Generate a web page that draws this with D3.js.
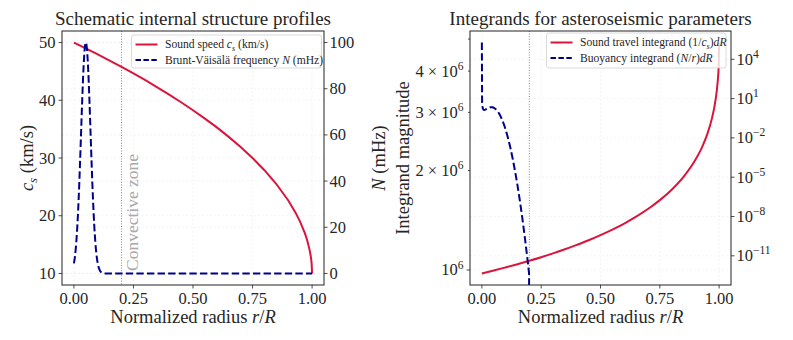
<!DOCTYPE html>
<html><head><meta charset="utf-8">
<script src="https://cdn.jsdelivr.net/npm/d3@7"></script>
<style>body{margin:0;background:#fff} svg, svg text, svg tspan{font-family:"Liberation Serif","Times New Roman",serif}</style>
</head><body><svg id="c" width="793" height="340"></svg>
<script>
// ---------------- data ----------------
const rCs = [0,0.05,0.1,0.15,0.2,0.25,0.3,0.35,0.4,0.45,0.5,0.55,0.6,0.65,0.7,0.75,0.8,0.85,0.9,0.93,0.95,0.97,0.98,0.99,0.995,0.998,1.0];
const csVals = [50,48.99,47.95,46.88,45.78,44.64,43.47,42.25,40.98,39.66,38.28,36.83,35.30,33.66,31.91,30.0,27.89,25.49,22.65,20.58,18.94,16.93,15.66,14.0,12.83,11.79,10];
const soundInt = [9.76e5,9.96e5,1.018e6,1.041e6,1.066e6,1.093e6,1.123e6,1.155e6,1.191e6,1.230e6,1.275e6,1.325e6,1.382e6,1.450e6,1.529e6,1.627e6,1.750e6,1.914e6,2.155e6,2.371e6,2.577e6,2.882e6,3.116e6,3.486e6,3.804e6,4.139e6,4.88e6];
const rN = [0,0.005,0.01,0.015,0.02,0.025,0.03,0.035,0.04,0.045,0.05,0.055,0.06,0.065,0.07,0.075,0.08,0.085,0.09,0.095,0.1,0.105,0.11,0.12,0.13,0.15,0.2,0.4,0.6,0.8,1.0];
const nVals = [4.39,7.8,13.53,21.6,32.47,45.78,60.65,75.47,88.25,96.92,100,96.92,88.25,75.47,60.65,45.78,32.47,21.6,13.53,7.96,4.39,2.3,1.11,0.22,0.03,0,0,0,0,0,0];
const rBuoy = [0,0.001,0.002,0.004,0.006,0.008,0.01,0.015,0.02,0.025,0.03,0.035,0.04,0.045,0.05,0.055,0.06,0.065,0.07,0.075,0.08,0.085,0.09,0.095,0.1,0.11,0.12,0.13,0.14,0.15,0.16,0.17,0.18,0.19,0.199,0.2,0.25,0.5,0.75,1.0];
const buoyInt = [1.9e5,4.98,2.81,1.77,1.48,1.375,1.35,1.44,1.62,1.83,2.02,2.16,2.21,2.15,2.0,1.762,1.47,1.161,0.866,0.610,0.406,0.254,0.150,0.0838,0.0439,0.0101,1.82e-3,2.58e-4,2.86e-5,2.49e-6,1.69e-7,8.9e-9,3.7e-10,1.2e-11,4.5e-13,0,0,0,0,0];
const convR = 0.2;
const xTicks = [0,0.25,0.5,0.75,1.0];
const csTicks = [10,20,30,40,50];
const nTicks = [0,20,40,60,80,100];
const soundMajor = [1e6];
const soundMinor = [2e6,3e6,4e6,5e6];
const soundMinorLabeled = [2e6,3e6,4e6];
const buoyTicks = [1e4,1e1,1e-2,1e-5,1e-8,1e-11];

// ---------------- helpers ----------------
const RED = "#dc143c", BLUE = "#00008b";
const FONT = "Liberation Serif, Times New Roman, serif";
const svg = d3.select("#c");
function rich(t, parts, fs) {
  let cur = 0;
  parts.forEach(p => {
    const [txt, st] = typeof p === "string" ? [p, ""] : p;
    const ts = t.append("tspan").text(txt);
    let target = 0, size = fs;
    if (st.includes("i")) ts.attr("font-style", "italic");
    if (st.includes("b")) { target = fs * 0.22; size = fs * 0.7; }
    if (st.includes("p")) { target = -fs * 0.42; size = fs * 0.7; }
    ts.attr("font-size", size);
    if (target !== cur) { ts.attr("dy", target - cur); cur = target; }
  });
  return t;
}
function supExp(v) {
  const e = Math.round(Math.log10(v));
  return [["10", ""], [(e < 0 ? "\u2212" : "") + Math.abs(e), "p"]];
}
function padDomain(lo, hi) { const p = 0.05 * (hi - lo); return [lo - p, hi + p]; }
function logDomain(vals) {
  const pos = vals.filter(v => v > 0);
  const lo = Math.log10(d3.min(pos)), hi = Math.log10(d3.max(pos));
  const p = 0.05 * (hi - lo);
  return [Math.pow(10, lo - p), Math.pow(10, hi + p)];
}
const TOP = 31, BOT = 285;
const TICKFS = 16.5, LABFS = 18.5, TITFS = 19, LEGFS = 11.6;
const TXT = "#262626";

function txt(g) { return g.append("text").attr("font-family", FONT).attr("fill", TXT); }
function frame(g, x0, x1) {
  g.append("rect").attr("x", x0).attr("y", TOP).attr("width", x1 - x0).attr("height", BOT - TOP)
    .attr("fill", "none").attr("stroke", "#222").attr("stroke-width", 1);
}
function gridV(g, x, ticks) {
  ticks.forEach(t => g.append("line").attr("x1", x(t)).attr("x2", x(t)).attr("y1", TOP).attr("y2", BOT)
    .attr("stroke", "#ececec").attr("stroke-width", 0.6).attr("stroke-dasharray", "2,2"));
}
function gridH(g, y, ticks, x0, x1) {
  ticks.forEach(t => g.append("line").attr("x1", x0).attr("x2", x1).attr("y1", y(t)).attr("y2", y(t))
    .attr("stroke", "#ececec").attr("stroke-width", 0.6).attr("stroke-dasharray", "2,2"));
}
function xAxis(g, x) {
  xTicks.forEach(t => {
    g.append("line").attr("x1", x(t)).attr("x2", x(t)).attr("y1", BOT).attr("y2", BOT + 3.5).attr("stroke", "#222").attr("stroke-width", 0.8);
    txt(g).attr("x", x(t)).attr("y", 303.5).attr("text-anchor", "middle").attr("font-size", TICKFS).text(d3.format(".2f")(t));
  });
}
function yTicks(g, y, ticks, xAt, side, fmt, len) {
  ticks.forEach(t => {
    const yy = y(t);
    g.append("line").attr("x1", xAt).attr("x2", xAt + (side === "left" ? -len : len)).attr("y1", yy).attr("y2", yy).attr("stroke", "#222").attr("stroke-width", 0.8);
    if (fmt) {
      const tx = txt(g).attr("x", side === "left" ? xAt - 6.5 : xAt + 5.5).attr("y", yy + 5.5)
        .attr("text-anchor", side === "left" ? "end" : "start").attr("font-size", TICKFS);
      rich(tx, fmt(t), TICKFS);
    }
  });
}
function legend(g, x0, y0, w, h, items) {
  g.append("rect").attr("x", x0).attr("y", y0).attr("width", w).attr("height", h).attr("rx", 2.5)
    .attr("fill", "white").attr("fill-opacity", 0.8).attr("stroke", "#d0d0d0").attr("stroke-width", 0.8);
  items.forEach((it, i) => {
    const yy = y0 + 9.5 + i * 15.5;
    g.append("line").attr("x1", x0 + 4).attr("x2", x0 + 26).attr("y1", yy).attr("y2", yy)
      .attr("stroke", it.color).attr("stroke-width", 2).attr("stroke-dasharray", it.dash || null);
    const tx = txt(g).attr("x", x0 + 33.5).attr("y", yy + 3.8).attr("font-size", LEGFS);
    rich(tx, it.parts, LEGFS);
  });
}
const defs = svg.append("defs");
function clip(id, x0, x1) {
  defs.append("clipPath").attr("id", id).append("rect").attr("x", x0).attr("y", TOP).attr("width", x1 - x0).attr("height", BOT - TOP);
}

// ---------------- left panel ----------------
{
  const X0 = 62, X1 = 324;
  const g = svg.append("g");
  clip("clipL", X0, X1);
  const x = d3.scaleLinear().domain(padDomain(0, 1)).range([X0, X1]);
  const y1 = d3.scaleLinear().domain(padDomain(d3.min(csVals), d3.max(csVals))).range([BOT, TOP]);
  const y2 = d3.scaleLinear().domain(padDomain(d3.min(nVals), d3.max(nVals))).range([BOT, TOP]);
  gridV(g, x, xTicks);
  gridH(g, y1, csTicks, X0, X1);
  gridH(g, y2, nTicks, X0, X1);
  const dl = g.append("g").attr("clip-path", "url(#clipL)");
  dl.append("line").attr("x1", x(convR)).attr("x2", x(convR)).attr("y1", TOP).attr("y2", BOT)
    .attr("stroke", "#888").attr("stroke-width", 1).attr("stroke-dasharray", "1,1.6");
  g.append("text").attr("font-family", FONT).attr("transform", `translate(${x(convR) + 16},271) rotate(-90)`).attr("font-size", 17.5)
    .attr("fill", "#a8a8a8").text("Convective zone");
  dl.append("path").datum(rCs.map((r, i) => [r, csVals[i]]))
    .attr("d", d3.line().x(d => x(d[0])).y(d => y1(d[1])))
    .attr("fill", "none").attr("stroke", RED).attr("stroke-width", 2);
  dl.append("path").datum(rN.map((r, i) => [r, nVals[i]]))
    .attr("d", d3.line().curve(d3.curveMonotoneX).x(d => x(d[0])).y(d => y2(d[1])))
    .attr("fill", "none").attr("stroke", BLUE).attr("stroke-width", 2).attr("stroke-dasharray", "7.4,3.2");
  legend(g, 131.5, 35, 190, 33, [
    { color: RED, parts: ["Sound speed ", ["c", "i"], ["s", "ib"], " (km/s)"] },
    { color: BLUE, dash: "5.5,2.4", parts: ["Brunt-Väisälä frequency ", ["N", "i"], " (mHz)"] }
  ]);
  frame(g, X0, X1);
  xAxis(g, x);
  yTicks(g, y1, csTicks, X0, "left", t => [String(t)], 3.5);
  yTicks(g, y2, nTicks, X1, "right", t => [String(t)], 3.5);
  txt(g).attr("x", (X0 + X1) / 2).attr("y", 25).attr("text-anchor", "middle").attr("font-size", TITFS)
    .text("Schematic internal structure profiles");
  rich(txt(g).attr("x", (X0 + X1) / 2).attr("y", 323).attr("text-anchor", "middle").attr("font-size", LABFS),
    ["Normalized radius ", ["r", "i"], "/", ["R", "i"]], LABFS);
  rich(txt(g).attr("transform", `translate(33,${(TOP + BOT) / 2}) rotate(-90)`).attr("text-anchor", "middle").attr("font-size", LABFS),
    [["c", "i"], ["s", "ib"], " (km/s)"], LABFS);
  rich(txt(g).attr("transform", `translate(385,${(TOP + BOT) / 2}) rotate(-90)`).attr("text-anchor", "middle").attr("font-size", LABFS),
    [["N", "i"], " (mHz)"], LABFS);
}

// ---------------- right panel ----------------
{
  const X0 = 470, X1 = 731;
  const g = svg.append("g");
  clip("clipR", X0, X1);
  const x = d3.scaleLinear().domain(padDomain(0, 1)).range([X0, X1]);
  const y1 = d3.scaleLog().domain(logDomain(soundInt)).range([BOT, TOP]);
  const y2 = d3.scaleLog().domain(logDomain(buoyInt)).range([BOT, TOP]);
  gridV(g, x, xTicks);
  gridH(g, y1, soundMajor, X0, X1);
  gridH(g, y2, buoyTicks, X0, X1);
  const dl = g.append("g").attr("clip-path", "url(#clipR)");
  dl.append("line").attr("x1", x(convR)).attr("x2", x(convR)).attr("y1", TOP).attr("y2", BOT)
    .attr("stroke", "#888").attr("stroke-width", 1).attr("stroke-dasharray", "1,1.6");
  dl.append("path").datum(rCs.map((r, i) => [r, soundInt[i]]))
    .attr("d", d3.line().curve(d3.curveMonotoneX).x(d => x(d[0])).y(d => y1(d[1])))
    .attr("fill", "none").attr("stroke", RED).attr("stroke-width", 2);
  dl.append("path").datum(rBuoy.map((r, i) => [r, buoyInt[i]]))
    .attr("d", d3.line().x(d => x(d[0])).y(d => d[1] > 0 ? y2(d[1]) : BOT + 3000))
    .attr("fill", "none").attr("stroke", BLUE).attr("stroke-width", 2).attr("stroke-dasharray", "7.4,3.2");
  legend(g, 546.5, 33, 179.5, 35, [
    { color: RED, parts: ["Sound travel integrand (1/", ["c", "i"], ["s", "ib"], ")", ["dR", "i"]] },
    { color: BLUE, dash: "5.5,2.4", parts: ["Buoyancy integrand (", ["N", "i"], "/", ["r", "i"], ")", ["dR", "i"]] }
  ]);
  frame(g, X0, X1);
  xAxis(g, x);
  yTicks(g, y1, soundMajor, X0, "left", t => supExp(t), 3.5);
  yTicks(g, y1, soundMinor, X0, "left", t => soundMinorLabeled.includes(t) ? [String(Math.round(t / 1e6)) + " \u00d7 10", ["6", "p"]] : [""], 2);
  yTicks(g, y2, buoyTicks, X1, "right", t => supExp(t), 3.5);
  txt(g).attr("x", (X0 + X1) / 2).attr("y", 25).attr("text-anchor", "middle").attr("font-size", TITFS)
    .text("Integrands for asteroseismic parameters");
  rich(txt(g).attr("x", (X0 + X1) / 2).attr("y", 323).attr("text-anchor", "middle").attr("font-size", LABFS),
    ["Normalized radius ", ["r", "i"], "/", ["R", "i"]], LABFS);
  txt(g).attr("transform", `translate(409,${(TOP + BOT) / 2}) rotate(-90)`).attr("text-anchor", "middle").attr("font-size", LABFS)
    .text("Integrand magnitude");
}
</script></body></html>
